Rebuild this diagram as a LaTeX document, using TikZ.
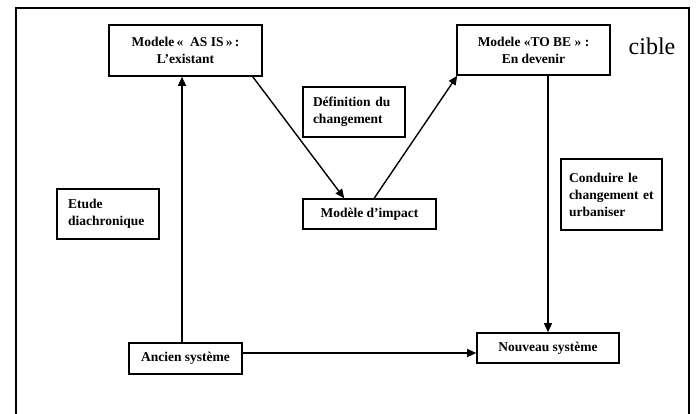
\documentclass[tikz,border=0pt]{standalone}
\usepackage{fontspec}
\setmainfont{Liberation Serif}
\usetikzlibrary{arrows.meta}
\begin{document}
\begin{tikzpicture}[x=1pt,y=-1pt,
  box/.style={draw, line width=1.6pt, inner sep=0pt,
    font=\bfseries\fontsize{13.5}{17}\selectfont, align=center},
  leftbox/.style={box, align=left},
  arr/.style={line width=1.4pt, -{Triangle[length=9pt,width=8pt]}},
  frame/.style={line width=1.7pt}]
  \useasboundingbox (0,0) rectangle (697,414);

  % outer frame (open at the bottom)
  \draw[frame] (16,420) -- (16,8) -- (689,8) -- (689,420);

  % states of the system
  \node[box, minimum width=153pt, minimum height=51pt] (asis) at (185.5,50.5)
    {Modele\,«\ \ AS IS\,»\,:\\L’existant};
  \node[box, minimum width=153pt, minimum height=50pt] (tobe) at (533.5,50)
    {Modele «TO BE » :\\En devenir};
  \node[box, minimum width=133pt, minimum height=30pt] (impact) at (369.5,214)
    {Modèle d’impact};
  \node[box, minimum width=113pt, minimum height=31pt] (ancien) at (185.5,358.5)
    {Ancien système};
  \node[box, minimum width=142pt, minimum height=30pt] (nouveau) at (548,348)
    {Nouveau système};

  % annotation boxes
  \node[leftbox, inner xsep=10pt, text width=82pt, minimum height=50pt] (def) at (354,112)
    {Définition du\\changement};
  \node[leftbox, inner xsep=11pt, text width=80pt, minimum height=50pt] (etude) at (108,214)
    {Etude\\diachronique};
  \node[leftbox, inner xsep=8pt, text width=85pt, minimum height=71pt] (conduire) at (611.5,194.5)
    {Conduire le\\changement et\\urbaniser};

  \node[font=\fontsize{24}{26}\selectfont] (cible) at (652,46) {cible};

  % transitions
  \draw[arr] ([xshift=-3.5pt]ancien.north) -- ([xshift=-3.5pt]asis.south);
  \draw[arr] ([xshift=-10pt]asis.south east) -- ([xshift=42pt]impact.north west);
  \draw[arr] ([xshift=72pt]impact.north west) -- ([xshift=1pt]tobe.south west);
  \draw[arr] (tobe.south -| nouveau.north) -- (nouveau.north);
  \draw[arr] (ancien.east |- 0,353) -- (nouveau.west |- 0,353);
\end{tikzpicture}
\end{document}
